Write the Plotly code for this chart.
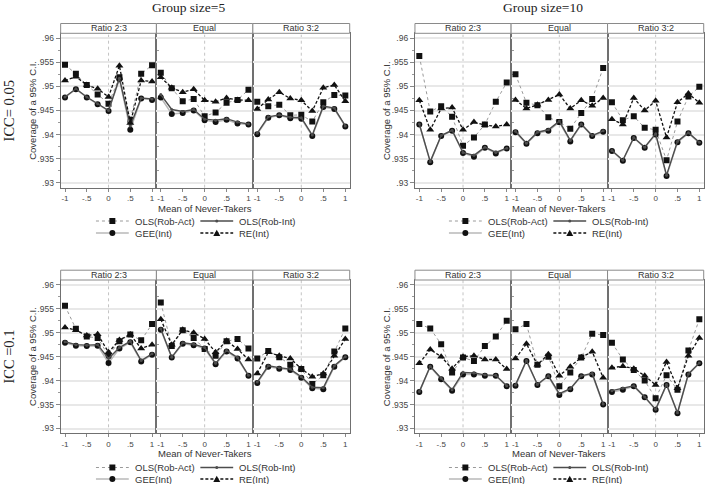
import plotly.graph_objects as go

# ---------------- data ----------------
X = [-1, -0.75, -0.5, -0.25, 0, 0.25, 0.5, 0.75, 1]
SUBPANELS = ["Ratio 2:3", "Equal", "Ratio 3:2"]
SERIES = ["OLS(Rob-Act)", "OLS(Rob-Int)", "GEE(Int)", "RE(Int)"]
Y_TICKS = [0.93, 0.935, 0.94, 0.945, 0.95, 0.955, 0.96]
Y_TICKTEXT = [".93", ".935", ".94", ".945", ".95", ".955", ".96"]
X_TICKS = [-1, -0.5, 0, 0.5, 1]
X_TICKTEXT = ["-1", "-.5", "0", ".5", "1"]
COL_TITLES = ["Group size=5", "Group size=10"]
ROW_TITLES = ["ICC= 0.05", "ICC =0.1"]
X_TITLE = "Mean of Never-Takers"
Y_TITLE = "Coverage of a 95% C.I."

# Group size 5, ICC 0.05   (rows: Ratio 2:3, Equal, Ratio 3:2)
G5_ICC05_OLS_ACT = [[.9545, .9526, .9503, .9483, .9464, .9519, .9431, .9526, .9544],
                    [.9528, .9496, .9469, .9474, .9438, .9446, .9466, .9472, .9493],
                    [.9468, .9459, .9462, .9440, .9441, .9427, .9467, .9482, .9481]]
G5_ICC05_OLS_INT = [[.9478, .9495, .9478, .9464, .9450, .9517, .9418, .9476, .9474],
                    [.9483, .9452, .9448, .9452, .9432, .9430, .9433, .9426, .9422],
                    [.9403, .9437, .9441, .9436, .9435, .9399, .9459, .9455, .9418]]
G5_ICC05_GEE = [[.9477, .9494, .9477, .9463, .9449, .9515, .9410, .9475, .9472],
                [.9477, .9443, .9445, .9450, .9430, .9426, .9431, .9423, .9421],
                [.9401, .9435, .9440, .9434, .9433, .9397, .9457, .9453, .9417]]
G5_ICC05_RE = [[.9512, .9520, .9503, .9495, .9478, .9543, .9424, .9512, .9510],
               [.9519, .9497, .9488, .9494, .9471, .9468, .9476, .9472, .9471],
               [.9453, .9473, .9488, .9475, .9471, .9449, .9497, .9503, .9469]]

# Group size 10, ICC 0.05
G10_ICC05_OLS_ACT = [[.9563, .9448, .9459, .9437, .9377, .9394, .9421, .9468, .9508],
                     [.9525, .9466, .9461, .9436, .9426, .9412, .9445, .9474, .9538],
                     [.9467, .9430, .9438, .9414, .9410, .9347, .9427, .9479, .9499]]
G10_ICC05_OLS_INT = [[.9422, .9344, .9398, .9409, .9363, .9357, .9374, .9363, .9372],
                     [.9407, .9382, .9405, .9410, .9428, .9388, .9422, .9398, .9408],
                     [.9367, .9347, .9394, .9374, .9402, .9316, .9386, .9404, .9384]]
G10_ICC05_GEE = [[.9421, .9343, .9397, .9408, .9362, .9354, .9373, .9361, .9371],
                 [.9405, .9381, .9403, .9408, .9426, .9386, .9421, .9397, .9406],
                 [.9366, .9346, .9393, .9373, .9400, .9314, .9384, .9403, .9383]]
G10_ICC05_RE = [[.9471, .9410, .9454, .9456, .9410, .9426, .9420, .9417, .9421],
                [.9472, .9454, .9462, .9472, .9483, .9454, .9471, .9460, .9476],
                [.9432, .9421, .9476, .9450, .9470, .9394, .9467, .9485, .9466]]

# Group size 5, ICC 0.1
G5_ICC1_OLS_ACT = [[.9556, .9508, .9492, .9489, .9452, .9482, .9496, .9484, .9518],
                   [.9563, .9472, .9505, .9489, .9466, .9452, .9482, .9487, .9467],
                   [.9446, .9462, .9449, .9433, .9424, .9393, .9411, .9461, .9509]]
G5_ICC1_OLS_INT = [[.9481, .9475, .9474, .9475, .9446, .9469, .9482, .9442, .9456],
                   [.9508, .9449, .9479, .9476, .9469, .9436, .9463, .9448, .9411],
                   [.9397, .9431, .9427, .9424, .9408, .9386, .9385, .9431, .9450]]
G5_ICC1_GEE = [[.9479, .9473, .9472, .9473, .9437, .9467, .9480, .9440, .9454],
               [.9506, .9448, .9477, .9474, .9467, .9434, .9461, .9446, .9410],
               [.9395, .9429, .9425, .9422, .9406, .9384, .9382, .9429, .9449]]
G5_ICC1_RE = [[.9511, .9505, .9494, .9497, .9459, .9485, .9496, .9467, .9475],
              [.9528, .9475, .9506, .9500, .9487, .9459, .9483, .9466, .9444],
              [.9415, .9459, .9452, .9446, .9425, .9408, .9415, .9452, .9487]]

# Group size 10, ICC 0.1
G10_ICC1_OLS_ACT = [[.9518, .9509, .9476, .9417, .9448, .9441, .9472, .9492, .9525],
                    [.9507, .9518, .9433, .9450, .9388, .9417, .9448, .9498, .9495],
                    [.9479, .9444, .9422, .9400, .9363, .9411, .9381, .9463, .9528]]
G10_ICC1_OLS_INT = [[.9377, .9430, .9405, .9381, .9417, .9416, .9412, .9411, .9389],
                    [.9391, .9442, .9392, .9410, .9373, .9383, .9410, .9415, .9351],
                    [.9379, .9384, .9389, .9366, .9340, .9392, .9333, .9414, .9437]]
G10_ICC1_GEE = [[.9376, .9429, .9403, .9379, .9413, .9413, .9410, .9410, .9388],
                [.9389, .9441, .9391, .9409, .9370, .9382, .9409, .9413, .9350],
                [.9376, .9381, .9388, .9365, .9339, .9391, .9332, .9413, .9436]]
G10_ICC1_RE = [[.9436, .9465, .9450, .9425, .9450, .9452, .9444, .9444, .9424],
               [.9446, .9477, .9433, .9455, .9410, .9429, .9449, .9460, .9406],
               [.9427, .9430, .9425, .9410, .9391, .9439, .9384, .9452, .9489]]

PANEL_DATA = [
    (G5_ICC05_OLS_ACT, G5_ICC05_OLS_INT, G5_ICC05_GEE, G5_ICC05_RE),      # top-left
    (G10_ICC05_OLS_ACT, G10_ICC05_OLS_INT, G10_ICC05_GEE, G10_ICC05_RE),  # top-right
    (G5_ICC1_OLS_ACT, G5_ICC1_OLS_INT, G5_ICC1_GEE, G5_ICC1_RE),          # bottom-left
    (G10_ICC1_OLS_ACT, G10_ICC1_OLS_INT, G10_ICC1_GEE, G10_ICC1_RE),      # bottom-right
]

# ---------------- layout geometry (pixels) ----------------
W, H = 709, 484
COL_EDGES = [[61, 157.3, 254.3, 351.7], [417.3, 514, 611, 707.7]]
ROW_EDGES = [[33.3, 187.7], [280, 433.3]]
LEGEND_ROWS = [[221, 233], [467.5, 479]]          # legend row centres (px)
LEGEND_COLS = [[96.5, 201.5], [451.5, 556.5]]     # key-line start of each legend column
KEY_LEN = 33
COL_TITLE_X = [190, 546]
STRIP_H = 9.8

def px(x):
    return x / W

def py(y):
    return 1 - y / H

SANS = "Liberation Sans, Arial, sans-serif"
SERIF = "Liberation Serif, Times New Roman, serif"

STYLE = {
    "OLS(Rob-Act)": dict(line=dict(color="#9a9a9a", width=1, dash="dot"),
                         marker=dict(symbol="square", size=6, color="#111")),
    "OLS(Rob-Int)": dict(line=dict(color="#4d4d4d", width=1.4),
                         marker=dict(symbol="circle", size=3, color="#4d4d4d")),
    "GEE(Int)": dict(line=dict(color="#b8b8b8", width=1.5),
                     marker=dict(symbol="circle", size=6, color="#111")),
    "RE(Int)": dict(line=dict(color="#111", width=1.3, dash="3px,2px"),
                    marker=dict(symbol="triangle-up", size=7, color="#111")),
}
DRAW_ORDER = [0, 2, 1, 3]  # OLS(Rob-Act), GEE, OLS(Rob-Int), RE
LEGEND_GRID = [[0, 1], [2, 3]]  # series index per legend row / column

fig = go.Figure()
layout = dict(width=W, height=H, margin=dict(l=0, r=0, t=0, b=0),
              paper_bgcolor="white", plot_bgcolor="white", showlegend=False,
              font=dict(family=SANS, color="#333"))
shapes, annotations = [], []


def legend_key(name, x0, yc):
    """Legend key (line sample + marker glyph) drawn in paper space."""
    st = STYLE[name]
    out = [dict(type="line", xref="paper", yref="paper",
                x0=px(x0), x1=px(x0 + KEY_LEN), y0=py(yc), y1=py(yc),
                line=dict(color=st["line"]["color"], width=st["line"]["width"],
                          dash=st["line"].get("dash", "solid")))]
    cx = x0 + KEY_LEN / 2
    sym, sz, colr = st["marker"]["symbol"], st["marker"]["size"], st["marker"]["color"]
    r = sz / 2
    if sym == "square":
        out.append(dict(type="rect", xref="paper", yref="paper",
                        x0=px(cx - r), x1=px(cx + r), y0=py(yc + r), y1=py(yc - r),
                        fillcolor=colr, line=dict(width=0)))
    elif sym == "circle":
        out.append(dict(type="circle", xref="paper", yref="paper",
                        x0=px(cx - r), x1=px(cx + r), y0=py(yc + r), y1=py(yc - r),
                        fillcolor=colr, line=dict(width=0)))
    else:
        path = (f"M {px(cx - r):.5f} {py(yc + r * 0.85):.5f} "
                f"L {px(cx + r):.5f} {py(yc + r * 0.85):.5f} "
                f"L {px(cx):.5f} {py(yc - r * 0.95):.5f} Z")
        out.append(dict(type="path", xref="paper", yref="paper", path=path,
                        fillcolor=colr, line=dict(width=0)))
    return out


for p in range(4):
    row, col = divmod(p, 2)
    y0px, y1px = ROW_EDGES[row]
    yid = p + 1
    yname = "yaxis" if yid == 1 else f"yaxis{yid}"
    ytrace = "y" if yid == 1 else f"y{yid}"
    first_x = p * 3 + 1
    layout[yname] = dict(
        domain=[py(y1px), py(y0px)], anchor=("x" if first_x == 1 else f"x{first_x}"),
        range=[0.929, 0.961], tickvals=Y_TICKS, ticktext=Y_TICKTEXT,
        ticks="outside", ticklen=4, tickcolor="#888", tickwidth=1,
        tickfont=dict(size=8.5, color="#444", family=SANS),
        showline=True, mirror="all", linecolor="#707070", linewidth=1.1,
        showgrid=True, gridcolor="#e8e8e8", gridwidth=1.5, zeroline=False,
        minor=dict(tickmode="linear", tick0=0.93, dtick=0.0025, ticks="outside",
                   ticklen=2, tickcolor="#999", showgrid=False),
    )
    for s in range(3):
        xid = p * 3 + s + 1
        xname = "xaxis" if xid == 1 else f"xaxis{xid}"
        xtrace = "x" if xid == 1 else f"x{xid}"
        x0px, x1px = COL_EDGES[col][s], COL_EDGES[col][s + 1]
        layout[xname] = dict(
            domain=[px(x0px), px(x1px)], anchor=ytrace, range=[-1.1, 1.1],
            tickvals=X_TICKS, ticktext=X_TICKTEXT, ticks="outside", ticklen=3,
            ticklabelstandoff=0,
            tickcolor="#888", tickfont=dict(size=8, color="#444", family=SANS),
            showline=True, mirror=True, linecolor="#707070", linewidth=1.3,
            showgrid=False, zeroline=False,
        )
        # dotted reference line at 0
        shapes.append(dict(type="line", xref=xtrace, yref=f"{ytrace} domain",
                           x0=0, x1=0, y0=0, y1=1, layer="below",
                           line=dict(color="#c4c4c4", width=1, dash="dot")))
        # strip header
        shapes.append(dict(type="rect", xref=f"{xtrace} domain", yref="paper",
                           x0=0, x1=1, y0=py(y0px), y1=py(y0px - STRIP_H),
                           fillcolor="white", line=dict(color="#8a8a8a", width=1)))
        annotations.append(dict(text=SUBPANELS[s], xref=f"{xtrace} domain", yref="paper",
                                x=0.5, y=py(y0px - STRIP_H / 2), showarrow=False,
                                font=dict(size=9, color="#333", family=SANS),
                                xanchor="center", yanchor="middle"))
        data = PANEL_DATA[p]
        for j in DRAW_ORDER:
            name = SERIES[j]
            fig.add_trace(go.Scatter(
                x=X, y=data[j][s], xaxis=xtrace, yaxis=ytrace, name=name,
                mode="lines+markers", showlegend=False,
                line=STYLE[name]["line"], marker=STYLE[name]["marker"],
            ))

    # axis titles
    mid_x = (COL_EDGES[col][1] + COL_EDGES[col][2]) / 2
    annotations.append(dict(text=X_TITLE, xref="paper", yref="paper",
                            x=px(mid_x), y=py(y1px + 20.5), showarrow=False,
                            font=dict(size=9.5, color="#333", family=SANS),
                            xanchor="center", yanchor="middle"))
    annotations.append(dict(text=Y_TITLE, xref="paper", yref="paper",
                            x=px(COL_EDGES[col][0] - 28.5), y=py((y0px + y1px) / 2),
                            showarrow=False, textangle=-90,
                            font=dict(size=9.5, color="#333", family=SANS),
                            xanchor="center", yanchor="middle"))
    # legend (2 x 2 grid of keys)
    for lr in range(2):
        for lc in range(2):
            name = SERIES[LEGEND_GRID[lr][lc]]
            kx = LEGEND_COLS[col][lc]
            ky = LEGEND_ROWS[row][lr]
            shapes.extend(legend_key(name, kx, ky))
            annotations.append(dict(text=name, xref="paper", yref="paper",
                                    x=px(kx + KEY_LEN + 4), y=py(ky), showarrow=False,
                                    font=dict(size=9.5, color="#333", family=SANS),
                                    xanchor="left", yanchor="middle"))

# column and row titles
for c, t in enumerate(COL_TITLES):
    annotations.append(dict(text=t, xref="paper", yref="paper", x=px(COL_TITLE_X[c]), y=py(8),
                            showarrow=False, font=dict(size=13.5, color="#222", family=SERIF),
                            xanchor="center", yanchor="middle"))
for r, t in enumerate(ROW_TITLES):
    cy = (ROW_EDGES[r][0] + ROW_EDGES[r][1]) / 2
    annotations.append(dict(text=t, xref="paper", yref="paper", x=px(9), y=py(cy),
                            showarrow=False, textangle=-90,
                            font=dict(size=14.5, color="#222", family=SERIF),
                            xanchor="center", yanchor="middle"))

layout["shapes"] = shapes
layout["annotations"] = annotations
fig.update_layout(**layout)
fig.write_html(
    "out.html",
    config={"displayModeBar": False},
    post_script="document.body.style.margin='0';document.body.style.overflow='hidden';",
)
